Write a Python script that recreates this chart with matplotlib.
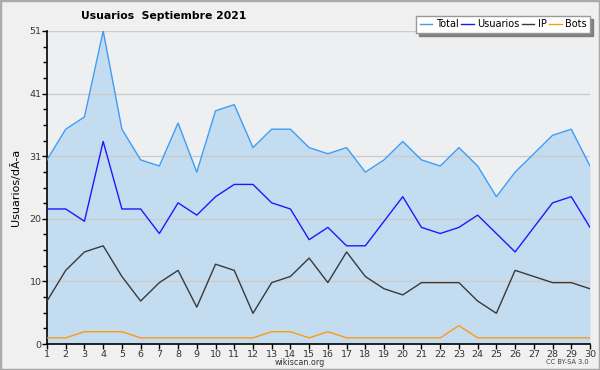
import matplotlib
matplotlib.use("Agg")
import matplotlib.pyplot as plt
from matplotlib.patches import Rectangle
from matplotlib.ticker import MultipleLocator

days = list(range(1, 31))
total = [30, 35, 37, 51, 35, 30, 29, 36, 28, 38, 39, 32, 35, 35, 32,
         31, 32, 28, 30, 33, 30, 29, 32, 29, 24, 28, 31, 34, 35, 29]
usuarios = [22, 22, 20, 33, 22, 22, 18, 23, 21, 24, 26, 26, 23, 22, 17,
            19, 16, 16, 20, 24, 19, 18, 19, 21, 18, 15, 19, 23, 24, 19]
ip = [7, 12, 15, 16, 11, 7, 10, 12, 6, 13, 12, 5, 10, 11, 14,
      10, 15, 11, 9, 8, 10, 10, 10, 7, 5, 12, 11, 10, 10, 9]
bots = [1, 1, 2, 2, 2, 1, 1, 1, 1, 1, 1, 1, 2, 2, 1,
        2, 1, 1, 1, 1, 1, 1, 3, 1, 1, 1, 1, 1, 1, 1]
y_ticks = [0, 10.2, 20.4, 30.6, 40.8, 51]
y_labels = ["0", "10", "20", "31", "41", "51"]

fig = plt.figure(figsize=(6, 3.7), dpi=100, facecolor="#f0f0f0")
ax = fig.add_axes([47 / 600, 1 - 344 / 370, 543 / 600, 313 / 370])
ax.set_facecolor("#eeeff1")

# grid sits under the translucent fill
ax.set_yticks(y_ticks)
ax.set_yticklabels(y_labels)
ax.yaxis.set_minor_locator(MultipleLocator(51 / 20))
ax.grid(axis="y", color="#cccccc", linewidth=1, zorder=0)

ax.fill_between(days, total, 0, color="#9ccbef", alpha=0.5, linewidth=0, zorder=1)
ax.plot(days, total, color="#3d9df5", linewidth=1, label="Total", zorder=3)
ax.plot(days, usuarios, color="#1a1aff", linewidth=1, label="Usuarios", zorder=3)
ax.plot(days, ip, color="#3a3a3a", linewidth=1, label="IP", zorder=3)
ax.plot(days, bots, color="#ff9a10", linewidth=1, label="Bots", zorder=3)

ax.set_xlim(1, 30)
ax.set_ylim(0, 51)
ax.set_xticks(days)

for side in ["top", "right"]:
    ax.spines[side].set_visible(False)
ax.spines["left"].set_linewidth(1.2)
ax.spines["bottom"].set_linewidth(1.2)
ax.tick_params(axis="both", which="major", length=3.5, width=1, labelsize=6.8,
               labelcolor="#333333", pad=0.5)
ax.tick_params(axis="y", which="minor", length=3, width=1)
ax.set_ylabel("Usuarios/dÃ-a", fontsize=8, labelpad=6)

fig.text(164 / 600, 1 - 16 / 370, "Usuarios  Septiembre 2021", ha="center",
         va="center", fontsize=7.8, fontweight="bold")

leg = ax.legend(loc="upper right", ncol=4, bbox_to_anchor=(590 / 600, 1 - 16 / 370),
                bbox_transform=fig.transFigure, borderaxespad=0, fontsize=7,
                handlelength=1.3, handletextpad=0.35, columnspacing=0.25,
                fancybox=False, framealpha=1, edgecolor="#999999",
                borderpad=0.35, shadow={"color": "#808080", "alpha": 1})
leg.get_frame().set_linewidth(1)

fig.text(300 / 600, 1 - 362.5 / 370, "wikiscan.org", ha="center", va="center",
         fontsize=5.8, color="#333333")
fig.text(589 / 600, 1 - 362.5 / 370, "CC BY-SA 3.0", ha="right", va="center",
         fontsize=4.8, color="#444444")

fig.patches.append(Rectangle((0, 0), 1, 1, transform=fig.transFigure, fill=False,
                             edgecolor="#aaaaaa", linewidth=2.5))

fig.savefig("out.png", dpi=100, facecolor=fig.get_facecolor())
